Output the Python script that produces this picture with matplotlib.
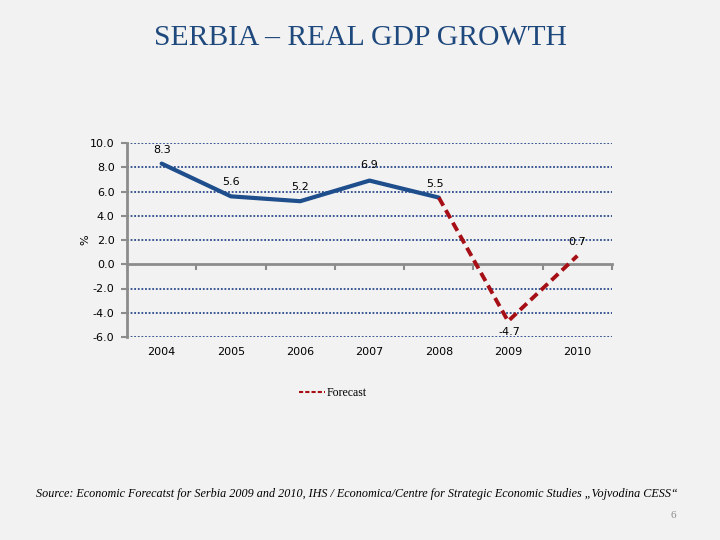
import matplotlib
matplotlib.use("Agg")
import matplotlib.pyplot as plt
from matplotlib.lines import Line2D

years = ["2004", "2005", "2006", "2007", "2008", "2009", "2010"]
actual = [8.3, 5.6, 5.2, 6.9, 5.5]
forecast_years = ["2008", "2009", "2010"]
forecast = [5.5, -4.7, 0.7]
yticks = [-6.0, -4.0, -2.0, 0.0, 2.0, 4.0, 6.0, 8.0, 10.0]

bg = "#f2f2f2"
fig = plt.figure(figsize=(7.2, 5.4), dpi=100, facecolor=bg)
ax = fig.add_axes([127/720, 1-337/540, 485/720, 194/540], facecolor=bg)

xa = [years.index(y) for y in years[:len(actual)]]
xf = [years.index(y) for y in forecast_years]

ax.set_xlim(-0.5, len(years) - 0.5)
ax.set_ylim(-6, 10)
ax.set_yticks(yticks)
ax.set_yticklabels([f"{v:.1f}" for v in yticks], fontsize=8, family="DejaVu Sans")
for v in yticks:
    if v != 0:
        ax.axhline(v, color="#2b4a8c", lw=1.3, ls=(0, (1, 1)), zorder=1)

for s in ["top", "right"]:
    ax.spines[s].set_visible(False)
ax.spines["left"].set_color("#8c8c8c")
ax.spines["left"].set_linewidth(2)
ax.spines["bottom"].set_position(("data", 0))
ax.spines["bottom"].set_color("#8c8c8c")
ax.spines["bottom"].set_linewidth(2)
ax.set_xticks([i + 0.5 for i in range(len(years))])
ax.set_xticklabels([])
ax.tick_params(axis="x", direction="out", length=4, width=1.5, color="#8c8c8c")
ax.tick_params(axis="y", direction="out", length=4, width=1.5, color="#8c8c8c", pad=5)

for i, y in enumerate(years):
    ax.annotate(y, (i, -6), xytext=(0, -11), textcoords="offset points",
                ha="center", va="center", fontsize=8, family="DejaVu Sans")

ax.plot(xa, actual, color="#1f4e8c", lw=3, solid_capstyle="round", zorder=3)
ax.plot(xf, forecast, color="#a50f15", lw=2.8, ls=(0, (2.4, 1.3)), zorder=3)

offsets = {0: (0, 10), 1: (0, 10), 2: (0, 10), 3: (0, 11), 4: (-3, 10)}
for i, v in zip(xa, actual):
    dx, dy = offsets[i]
    ax.annotate(f"{v:.1f}", (i, v), xytext=(dx, dy), textcoords="offset points",
                ha="center", va="center", fontsize=8, family="DejaVu Sans")
ax.annotate(f"{forecast[1]:.1f}", (xf[1], forecast[1]), xytext=(1, -8), textcoords="offset points",
            ha="center", va="center", fontsize=8, family="DejaVu Sans")
ax.annotate(f"{forecast[2]:.1f}", (xf[2], forecast[2]), xytext=(0, 10), textcoords="offset points",
            ha="center", va="center", fontsize=8, family="DejaVu Sans")

ax.set_ylabel("%", fontsize=8, family="DejaVu Sans", labelpad=2)
ax.yaxis.set_label_coords(-0.075, 0.5)

handle = Line2D([0], [0], color="#a50f15", lw=1.5, ls=(0, (2, 1)))
fig.legend([handle], ["Forecast"], loc="center", bbox_to_anchor=(333/720, 1-393/540),
           frameon=False, prop={"family": "Liberation Serif", "size": 8.5},
           handlelength=2.2, handletextpad=0.1)

fig.text(0.5, 1-38/540, "SERBIA – REAL GDP GROWTH", ha="center", va="center",
         fontsize=21.3, family="Liberation Serif", color="#1f497d")
fig.text(357/720, 1-494/540,
         "Source: Economic Forecatst for Serbia 2009 and 2010, IHS / Economica/Centre for Strategic Economic Studies \u201eVojvodina CESS\u201c",
         ha="center", va="center", fontsize=8.7, family="Liberation Serif", style="italic")
fig.text(673/720, 1-515/540, "6", ha="center", va="center", fontsize=8, color="#8c8c8c",
         family="Liberation Serif")

fig.savefig("out.png", dpi=100, facecolor=bg)
